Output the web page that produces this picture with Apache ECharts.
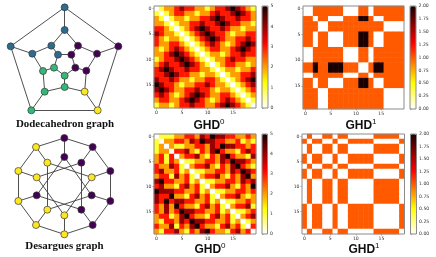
<!DOCTYPE html>
<html><head><meta charset="utf-8">
<style>html,body{margin:0;padding:0;background:#fff}#c{width:436px;height:257px}</style>
<script src="https://cdn.jsdelivr.net/npm/echarts@6/dist/echarts.min.js"></script>
</head><body><div id="c"></div>
<script>
const tickCats=Array.from({length:20},(_,i)=>String(i));
const ghd0Dodecahedron=[
[0,1,2,2,3,4,3,3,2,2,1,2,3,3,4,5,4,3,2,1],
[1,0,1,2,3,3,2,2,1,2,2,3,4,3,3,4,5,4,3,2],
[2,1,0,1,2,2,1,2,2,3,3,4,5,4,3,3,4,3,3,2],
[2,2,1,0,1,2,2,3,3,4,3,3,4,5,4,3,3,2,2,1],
[3,3,2,1,0,1,2,3,4,5,4,3,3,4,3,2,2,1,2,2],
[4,3,2,2,1,0,1,2,3,4,5,4,3,3,2,1,2,2,3,3],
[3,2,1,2,2,1,0,1,2,3,4,5,4,3,2,2,3,3,4,3],
[3,2,2,3,3,2,1,0,1,2,3,4,3,2,1,2,3,4,5,4],
[2,1,2,3,4,3,2,1,0,1,2,3,3,2,2,3,4,5,4,3],
[2,2,3,4,5,4,3,2,1,0,1,2,2,1,2,3,3,4,3,3],
[1,2,3,3,4,5,4,3,2,1,0,1,2,2,3,4,3,3,2,2],
[2,3,4,3,3,4,5,4,3,2,1,0,1,2,3,3,2,2,1,2],
[3,4,5,4,3,3,4,3,3,2,2,1,0,1,2,2,1,2,2,3],
[3,3,4,5,4,3,3,2,2,1,2,2,1,0,1,2,2,3,3,4],
[4,3,3,4,3,2,2,1,2,2,3,3,2,1,0,1,2,3,4,5],
[5,4,3,3,2,1,2,2,3,3,4,3,2,2,1,0,1,2,3,4],
[4,5,4,3,2,2,3,3,4,3,3,2,1,2,2,1,0,1,2,3],
[3,4,3,2,1,2,3,4,5,4,3,2,2,3,3,2,1,0,1,2],
[2,3,3,2,2,3,4,5,4,3,2,1,2,3,4,3,2,1,0,1],
[1,2,2,1,2,3,3,4,3,3,2,2,3,4,5,4,3,2,1,0]];
const ghd1Dodecahedron=[
[0,0,1,1,1,1,1,1,0,0,0,1,1,0,1,1,1,1,1,1],
[0,0,1,1,1,1,1,1,0,0,0,1,1,0,1,1,1,1,1,1],
[1,1,0,1,1,0,0,0,1,1,1,2,2,1,0,0,1,1,1,1],
[1,1,1,0,0,1,1,1,1,1,1,1,1,1,1,1,0,0,0,0],
[1,1,1,0,0,1,1,1,1,1,1,1,1,1,1,1,0,0,0,0],
[1,1,0,1,1,0,0,0,1,1,1,2,2,1,0,0,1,1,1,1],
[1,1,0,1,1,0,0,0,1,1,1,2,2,1,0,0,1,1,1,1],
[1,1,0,1,1,0,0,0,1,1,1,2,2,1,0,0,1,1,1,1],
[0,0,1,1,1,1,1,1,0,0,0,1,1,0,1,1,1,1,1,1],
[0,0,1,1,1,1,1,1,0,0,0,1,1,0,1,1,1,1,1,1],
[0,0,1,1,1,1,1,1,0,0,0,1,1,0,1,1,1,1,1,1],
[1,1,2,1,1,2,2,2,1,1,1,0,0,1,2,2,1,1,1,1],
[1,1,2,1,1,2,2,2,1,1,1,0,0,1,2,2,1,1,1,1],
[0,0,1,1,1,1,1,1,0,0,0,1,1,0,1,1,1,1,1,1],
[1,1,0,1,1,0,0,0,1,1,1,2,2,1,0,0,1,1,1,1],
[1,1,0,1,1,0,0,0,1,1,1,2,2,1,0,0,1,1,1,1],
[1,1,1,0,0,1,1,1,1,1,1,1,1,1,1,1,0,0,0,0],
[1,1,1,0,0,1,1,1,1,1,1,1,1,1,1,1,0,0,0,0],
[1,1,1,0,0,1,1,1,1,1,1,1,1,1,1,1,0,0,0,0],
[1,1,1,0,0,1,1,1,1,1,1,1,1,1,1,1,0,0,0,0]];
const ghd0Desargues=[
[0,1,1,1,2,2,3,3,2,4,3,5,4,4,3,3,2,2,3,2],
[1,0,2,2,3,3,2,4,3,5,4,4,3,3,2,2,3,1,2,1],
[1,2,0,2,1,1,2,2,3,3,2,4,3,5,4,4,3,3,2,3],
[1,2,2,0,3,3,4,2,1,3,2,4,5,3,2,2,1,3,4,3],
[2,3,1,3,0,2,3,3,4,2,1,3,2,4,5,3,2,2,1,4],
[2,3,1,3,2,0,1,1,2,2,3,3,2,4,3,5,4,4,3,2],
[3,2,2,4,3,1,0,2,3,3,4,2,1,3,2,4,5,3,2,1],
[3,4,2,2,3,1,2,0,1,1,2,2,3,3,2,4,3,5,4,3],
[2,3,3,1,4,2,3,1,0,2,3,3,4,2,1,3,2,4,5,2],
[4,5,3,3,2,2,3,1,2,0,1,1,2,2,3,3,2,4,3,4],
[3,4,2,2,1,3,4,2,3,1,0,2,3,3,4,2,1,3,2,5],
[5,4,4,4,3,3,2,2,3,1,2,0,1,1,2,2,3,3,2,3],
[4,3,3,5,2,2,1,3,4,2,3,1,0,2,3,3,4,2,1,2],
[4,3,5,3,4,4,3,3,2,2,3,1,2,0,1,1,2,2,3,2],
[3,2,4,2,5,3,2,2,1,3,4,2,3,1,0,2,3,3,4,1],
[3,2,4,2,3,5,4,4,3,3,2,2,3,1,2,0,1,1,2,3],
[2,3,3,1,2,4,5,3,2,2,1,3,4,2,3,1,0,2,3,4],
[2,1,3,3,2,4,3,5,4,4,3,3,2,2,3,1,2,0,1,2],
[3,2,2,4,1,3,2,4,5,3,2,2,1,3,4,2,3,1,0,3],
[2,1,3,3,4,2,1,3,2,4,5,3,2,2,1,3,4,2,3,0]];
const ghd1Desargues=[
[0,1,0,0,1,1,0,1,1,0,0,0,0,0,1,1,1,1,1,0],
[1,0,1,1,0,0,1,0,0,1,1,1,1,1,0,0,0,0,0,1],
[0,1,0,0,1,1,0,1,1,0,0,0,0,0,1,1,1,1,1,0],
[0,1,0,0,1,1,0,1,1,0,0,0,0,0,1,1,1,1,1,0],
[1,0,1,1,0,0,1,0,0,1,1,1,1,1,0,0,0,0,0,1],
[1,0,1,1,0,0,1,0,0,1,1,1,1,1,0,0,0,0,0,1],
[0,1,0,0,1,1,0,1,1,0,0,0,0,0,1,1,1,1,1,0],
[1,0,1,1,0,0,1,0,0,1,1,1,1,1,0,0,0,0,0,1],
[1,0,1,1,0,0,1,0,0,1,1,1,1,1,0,0,0,0,0,1],
[0,1,0,0,1,1,0,1,1,0,0,0,0,0,1,1,1,1,1,0],
[0,1,0,0,1,1,0,1,1,0,0,0,0,0,1,1,1,1,1,0],
[0,1,0,0,1,1,0,1,1,0,0,0,0,0,1,1,1,1,1,0],
[0,1,0,0,1,1,0,1,1,0,0,0,0,0,1,1,1,1,1,0],
[0,1,0,0,1,1,0,1,1,0,0,0,0,0,1,1,1,1,1,0],
[1,0,1,1,0,0,1,0,0,1,1,1,1,1,0,0,0,0,0,1],
[1,0,1,1,0,0,1,0,0,1,1,1,1,1,0,0,0,0,0,1],
[1,0,1,1,0,0,1,0,0,1,1,1,1,1,0,0,0,0,0,1],
[1,0,1,1,0,0,1,0,0,1,1,1,1,1,0,0,0,0,0,1],
[1,0,1,1,0,0,1,0,0,1,1,1,1,1,0,0,0,0,0,1],
[0,1,0,0,1,1,0,1,1,0,0,0,0,0,1,1,1,1,1,0]];
const dodecaX=[194,355,293,94,32,194,234,291,259,254,194,134,129,97,154,174,214,226,194,162];
const dodecaY=[22,139,331,331,139,90,137,161,212,275,261,275,213,161,137,164,164,203,227,203];
const dodecaClass=[1,0,3,2,1,1,0,0,0,3,2,2,2,1,1,1,0,0,2,2];
const dodecaLinks=[[0,1],[1,2],[2,3],[3,4],[4,0],[0,5],[1,7],[2,9],[3,11],[4,13],[5,6],[6,7],[7,8],[8,9],[9,10],[10,11],[11,12],[12,13],[13,14],[14,5],[14,15],[6,16],[8,17],[10,18],[12,19],[15,16],[16,17],[17,18],[18,19],[19,15]];
const desarguesX=[193,278,331,331,278,193,108,55,55,108,193,244,275,275,244,193,142,110,110,142];
const desarguesY=[30,57,129,219,291,319,291,219,129,57,87,104,148,202,245,262,245,202,148,104];
const desarguesClass=[0,0,0,0,0,3,3,3,3,3,0,0,3,0,0,3,3,0,3,3];
const desarguesLinks=[[0,1],[1,2],[2,3],[3,4],[4,5],[5,6],[6,7],[7,8],[8,9],[9,0],[0,10],[1,11],[2,12],[3,13],[4,14],[5,15],[6,16],[7,17],[8,18],[9,19],[10,13],[11,14],[12,15],[13,16],[14,17],[15,18],[16,19],[17,10],[18,11],[19,12]];
const classColors=['#440154','#2c6c8e','#35b779','#fde725'];
const ticks5=[0,1,2,3,4,5];
const ticks2=[0,0.25,0.5,0.75,1,1.25,1.5,1.75,2];

function hotR(t){const x=1-t,c=v=>Math.round(255*Math.max(0,Math.min(1,v)));
 return `rgb(${c((x+0.0416)/0.4075)},${c((x-0.365)/0.381)},${c((x-0.746)/0.254)})`;}
const ramp=Array.from({length:41},(_,i)=>hotR(i/40));
const GRAY='#8a8a8a',TXT='#333',LBL=4.6;
const grid=[],xAxis=[],yAxis=[],series=[],visualMap=[];

function addGraph(box,xs,ys,cls,links,w,h){
 const i=grid.length;
 grid.push({left:box[0],top:box[1],width:box[2],height:box[3],show:false});
 xAxis.push({gridIndex:i,type:'value',min:0,max:w,show:false});
 yAxis.push({gridIndex:i,type:'value',min:0,max:h,inverse:true,show:false});
 series.push({type:'graph',coordinateSystem:'cartesian2d',xAxisIndex:i,yAxisIndex:i,layout:'none',silent:true,
  symbol:'circle',symbolSize:7,z:3,
  data:xs.map((x,k)=>({name:'n'+k,value:[x,ys[k]],itemStyle:{color:classColors[cls[k]],borderColor:'#3a3a3a',borderWidth:0.7}})),
  links:links.map(l=>({source:l[0],target:l[1]})),
  lineStyle:{color:'#3c3c3c',width:0.9,opacity:1,curveness:0},label:{show:false}});
}
function addHeat(box,bar,matrix,max,tv){
 const i=grid.length;
 grid.push({left:box[0],top:box[1],width:box[2],height:box[3],show:true,borderColor:GRAY,borderWidth:1,backgroundColor:'transparent',z:5});
 const ax={type:'category',data:tickCats,gridIndex:i,boundaryGap:true,
   axisLine:{show:false},splitLine:{show:false},splitArea:{show:false},
   axisTick:{show:true,alignWithLabel:true,interval:4,length:1.5,lineStyle:{color:'#555',width:0.5}},
   axisLabel:{interval:4,fontSize:LBL,color:TXT,margin:2.5,fontFamily:'DejaVu Sans'}};
 xAxis.push({...ax,position:'bottom'});
 yAxis.push({...ax,inverse:true,position:'left'});
 const data=[];matrix.forEach((r,y)=>r.forEach((v,x)=>data.push([x,y,v])));
 series.push({type:'heatmap',xAxisIndex:i,yAxisIndex:i,data,silent:true,itemStyle:{borderWidth:0},z:2});
 visualMap.push({type:'continuous',seriesIndex:series.length-1,min:0,max,dimension:2,calculable:false,realtime:false,
  orient:'vertical',left:bar[0],top:box[1],itemWidth:bar[1],itemHeight:box[3],padding:0,text:null,showLabel:false,
  inRange:{color:ramp},textStyle:{fontSize:1,color:'rgba(0,0,0,0)'},hoverLink:false,z:1});
 const j=grid.length;
 grid.push({left:bar[0],top:box[1],width:bar[1],height:box[3],show:true,borderColor:GRAY,borderWidth:1,backgroundColor:'transparent',z:6});
 xAxis.push({gridIndex:j,type:'value',show:false,min:0,max:1});
 yAxis.push({gridIndex:j,type:'value',position:'right',min:0,max,interval:tv[1]-tv[0],
  axisLine:{show:false},splitLine:{show:false},
  axisTick:{show:true,length:1.5,lineStyle:{color:'#555',width:0.5}},
  axisLabel:{fontSize:LBL,color:TXT,margin:2.5,fontFamily:'DejaVu Sans',formatter:v=>max===2?v.toFixed(2):String(v)}});
}
addGraph([0,0,130,130],dodecaX,dodecaY,dodecaClass,dodecaLinks,390,390);
addGraph([0,128,130,129],desarguesX,desarguesY,desarguesClass,desarguesLinks,390,387);
addHeat([154,6,102,102],[262,6],ghd0Dodecahedron,5,ticks5);
addHeat([303,6,101,103],[410,6],ghd1Dodecahedron,2,ticks2);
addHeat([154,134,102,100],[262,5.5],ghd0Desargues,5,ticks5);
addHeat([302,134,102.5,100],[410.5,6],ghd1Desargues,2,ticks2);

const ghdRich={a:{fontFamily:'Liberation Sans',fontSize:12,color:'#111',fontWeight:'bold',verticalAlign:'bottom',lineHeight:14},
 b:{fontFamily:'Liberation Sans',fontSize:8,color:'#111',fontWeight:'normal',verticalAlign:'top',lineHeight:14}};
const ghdStyle={rich:ghdRich};
const capStyle={fontFamily:'Liberation Serif',fontSize:10.9,fontWeight:'bold',color:'#111'};
const title=[
 {text:'Dodecahedron graph',left:65,top:124,textAlign:'center',textVerticalAlign:'middle',textStyle:capStyle,padding:0},
 {text:'Desargues graph',left:64.5,top:246,textAlign:'center',textVerticalAlign:'middle',textStyle:capStyle,padding:0},
 {text:'{a|GHD}{b|0}',left:209,top:124.5,textAlign:'center',textVerticalAlign:'middle',textStyle:ghdStyle,padding:0},
 {text:'{a|GHD}{b|1}',left:361,top:124.5,textAlign:'center',textVerticalAlign:'middle',textStyle:ghdStyle,padding:0},
 {text:'{a|GHD}{b|0}',left:210,top:248.5,textAlign:'center',textVerticalAlign:'middle',textStyle:ghdStyle,padding:0},
 {text:'{a|GHD}{b|1}',left:364,top:248.5,textAlign:'center',textVerticalAlign:'middle',textStyle:ghdStyle,padding:0}];
const chart=echarts.init(document.getElementById('c'),null,{renderer:'canvas'});
chart.setOption({animation:false,backgroundColor:'#fff',tooltip:{show:false},title,grid,xAxis,yAxis,visualMap,series});
</script></body></html>
